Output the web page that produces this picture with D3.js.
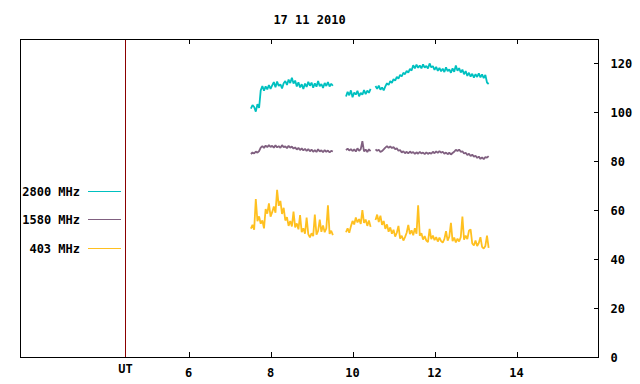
<!DOCTYPE html>
<html>
<head>
<meta charset="utf-8">
<script src="https://cdn.jsdelivr.net/npm/d3@7"></script>
<style>
    body { margin: 0; background: #fff; }
    text { font-family: "DejaVu Sans Mono", monospace; font-size: 12px; font-weight: bold; fill: #000; }
</style>
</head>
<body>
<div id="chart"></div>
<script>
// Sampling of the flux records: one value every 0.04 h, three segments.
const sample_step = 0.04;
const segment_starts = [7.52, 9.84, 10.56];

const y_ticks = [0, 20, 40, 60, 80, 100, 120];
const x_ticks = [6, 8, 10, 12, 14];
const ut_hour = 4.46;

const channels = ['2800 MHz', '1580 MHz', '403 MHz'];

const flux_2800 = [
    [101.5, 103.0, 102.2, 100.3, 103.4, 101.8, 109.0, 110.8, 108.9, 110.6, 109.4, 111.2, 109.6,
     111.0, 112.4, 110.3, 112.6, 110.8, 111.5, 109.8, 111.9, 112.8, 111.2, 113.4, 112.0, 114.2,
     111.8, 113.0, 110.6, 112.3, 110.2, 111.5, 109.6, 111.8, 110.4, 112.5, 110.9, 112.2, 110.1,
     111.9, 110.5, 112.8, 110.7, 111.6, 110.0, 112.0, 110.8, 112.4, 110.6, 111.7, 110.9],
    [106.5, 108.4, 107.0, 109.0, 106.2, 108.1, 107.3, 108.8, 106.6, 108.0, 107.2, 109.1, 107.5,
     108.9, 108.0, 109.6],
    [110.8, 109.6, 110.9, 109.3, 110.2, 109.0, 110.6, 111.9, 111.2, 112.8, 112.1, 113.6, 113.0,
     114.5, 113.8, 115.3, 114.7, 116.2, 115.6, 117.0, 116.3, 117.8, 117.1, 119.3, 118.0, 119.5,
     118.2, 119.2, 118.0, 119.6, 118.3, 119.0, 117.9, 120.0, 118.4, 118.9, 117.4, 118.6, 117.0,
     118.2, 116.8, 117.9, 116.5, 118.4, 116.9, 117.6, 116.2, 118.0, 116.6, 119.2, 117.0, 118.1,
     116.3, 117.5, 115.6, 116.9, 114.9, 116.2, 114.6, 115.8, 114.2, 115.6, 114.5, 116.0, 114.3,
     115.5, 114.0, 115.3, 112.2, 111.6],
];

const flux_1580 = [
    [83.0, 83.6, 83.2, 84.0, 83.5, 84.2, 85.6, 86.2, 85.5, 86.4, 85.8, 86.6, 85.9, 86.3, 85.6,
     86.5, 85.7, 86.2, 85.5, 86.6, 85.8, 86.1, 85.4, 86.3, 85.6, 86.0, 85.2, 85.7, 84.8, 85.5,
     84.6, 85.3, 84.5, 85.1, 84.2, 85.0, 84.1, 84.8, 83.9, 84.6, 83.8, 84.9, 84.0, 84.5, 83.7,
     84.6, 83.9, 84.4, 83.6, 84.3, 84.0],
    [84.6, 85.2, 84.4, 85.0, 84.2, 84.9, 84.0, 85.3, 84.3, 85.0, 88.2, 84.1, 84.8, 83.8, 84.9,
     84.2],
    [84.9, 84.3, 84.7, 83.8, 84.2, 84.9, 85.6, 86.2, 85.5, 86.1, 85.4, 85.8, 85.0, 85.3, 84.3,
     84.6, 83.6, 84.1, 83.3, 83.9, 83.2, 84.0, 83.4, 83.8, 83.0, 83.7, 83.1, 83.9, 83.2, 83.6,
     82.9, 83.7, 83.0, 83.5, 83.1, 83.9, 83.3, 84.1, 83.4, 84.2, 83.5, 83.9, 83.1, 83.6, 82.9,
     83.5, 82.8, 83.4, 83.9, 84.7, 84.2, 84.8, 83.9, 84.1, 83.2, 83.5, 82.6, 83.1, 82.2, 82.7,
     81.9, 82.3, 81.4, 81.9, 81.0, 81.6, 80.9, 81.7, 81.5, 82.1],
];

const flux_403 = [
    [52.5, 54.0, 52.0, 64.6, 55.5, 57.5, 54.5, 55.8, 52.6, 60.5, 58.6, 62.8, 57.4, 59.2, 61.5,
     59.0, 68.3, 61.8, 63.8, 58.5, 61.0, 55.8, 57.2, 53.6, 55.6, 53.4, 59.4, 53.0, 54.6, 52.2,
     58.0, 51.0, 52.6, 50.4, 57.0, 50.2, 48.9, 50.6, 49.4, 58.2, 50.0, 51.6, 56.2, 51.2, 53.8,
     51.0, 52.6, 62.0, 50.3, 51.6, 49.8],
    [51.0, 52.6, 50.8, 53.4, 55.6, 54.2, 57.0, 55.0, 56.4, 54.4, 60.0, 54.8, 56.2, 53.6, 55.8,
     53.2],
    [56.0, 58.2, 55.2, 57.8, 54.0, 55.6, 52.4, 54.2, 51.2, 53.0, 50.4, 52.0, 49.2, 50.8, 53.6,
     48.4, 49.6, 47.6, 49.0, 50.8, 54.0, 50.2, 51.8, 49.8, 52.6, 50.4, 62.0, 49.6, 50.6, 48.0,
     49.4, 47.6, 47.0, 52.4, 48.2, 49.6, 47.8, 49.0, 47.2, 48.8, 47.4, 46.8, 48.2, 51.4, 47.6,
     49.2, 54.8, 47.4, 48.8, 46.8, 48.4, 47.2, 49.0, 57.4, 48.0, 49.6, 48.2, 51.6, 52.2, 46.4,
     45.6, 47.6, 45.4, 46.6, 49.0, 45.0, 44.3, 45.4, 49.6, 44.6],
];

const series = [flux_2800, flux_1580, flux_403];
const colors = ['#00c0c0', '#806080', '#ffc020'];

const width = 640;
const height = 384;
const margin = { top: 39, right: 41.5, bottom: 27, left: 20.5 };

const svg = d3.select('#chart')
    .append('svg')
    .attr('width', width)
    .attr('height', height);

const x = d3.scaleLinear()
    .domain([1.9, 16])
    .range([margin.left, width - margin.right]);

const y = d3.scaleLinear()
    .domain([0, 130])
    .range([height - margin.bottom, margin.top]);

const tick_len = 5;

// Ticks on top and bottom, pointing into the plot.
svg.append('g')
    .attr('transform', `translate(0, ${y(0)})`)
    .call(d3.axisBottom(x).tickValues(x_ticks).tickSize(-tick_len).tickFormat(''))
    .call((g) => g.select('.domain').remove());
svg.append('g')
    .attr('transform', `translate(0, ${y(130)})`)
    .call(d3.axisTop(x).tickValues(x_ticks).tickSize(-tick_len).tickFormat(''))
    .call((g) => g.select('.domain').remove());

// Right axis: inward ticks, labels outside.
svg.append('g')
    .attr('transform', `translate(${x(16)}, 0)`)
    .call(d3.axisRight(y).tickValues(y_ticks).tickSize(-tick_len).tickPadding(7 + tick_len))
    .call((g) => g.select('.domain').remove())
    .call((g) => g.selectAll('text').attr('text-anchor', 'start').attr('dy', '0.36em'));

svg.selectAll('.tick line')
    .attr('stroke', '#000')
    .attr('shape-rendering', 'crispEdges');

// Bottom labels.
svg.append('g')
    .selectAll('text')
    .data(x_ticks)
    .join('text')
        .attr('x', (d) => x(d))
        .attr('y', y(0) + 20)
        .attr('text-anchor', 'middle')
        .text((d) => d);

svg.append('text')
    .attr('x', x(ut_hour))
    .attr('y', y(0) + 16)
    .attr('text-anchor', 'middle')
    .text('UT');

svg.append('text')
    .attr('x', (x(1.9) + x(16)) / 2)
    .attr('y', 23.5)
    .attr('text-anchor', 'middle')
    .text('17 11 2010');

// UT marker line.
svg.append('line')
    .attr('x1', Math.round(x(ut_hour)) + 0.5)
    .attr('x2', Math.round(x(ut_hour)) + 0.5)
    .attr('y1', y(130))
    .attr('y2', y(0))
    .attr('stroke', '#8b0000')
    .attr('stroke-width', 1);

// Data lines. The records are dense, so draw them a bit heavier.
const line = d3.line()
    .x((d) => x(d.hour))
    .y((d) => y(d.value));

series.forEach(function(segments, k) {
    segments.forEach(function(values, s) {
        const points = values.map((v, i) => ({ hour: segment_starts[s] + i * sample_step, value: v }));
        svg.append('path')
            .datum(points)
            .attr('fill', 'none')
            .attr('stroke', colors[k])
            .attr('stroke-width', 1.8)
            .attr('stroke-linejoin', 'bevel')
            .attr('d', line);
    });
});

// Legend.
const legend_y = [191.5, 219.5, 248.5];
channels.forEach(function(name, k) {
    svg.append('text')
        .attr('x', 80)
        .attr('y', legend_y[k])
        .attr('dy', '0.36em')
        .attr('text-anchor', 'end')
        .text(name);
    svg.append('line')
        .attr('x1', 88)
        .attr('x2', 121)
        .attr('y1', legend_y[k])
        .attr('y2', legend_y[k])
        .attr('stroke', colors[k]);
});

// Frame.
svg.append('rect')
    .attr('x', x(1.9))
    .attr('y', y(130))
    .attr('width', x(16) - x(1.9))
    .attr('height', y(0) - y(130))
    .attr('fill', 'none')
    .attr('stroke', '#000')
    .attr('shape-rendering', 'crispEdges');
</script>
</body>
</html>
